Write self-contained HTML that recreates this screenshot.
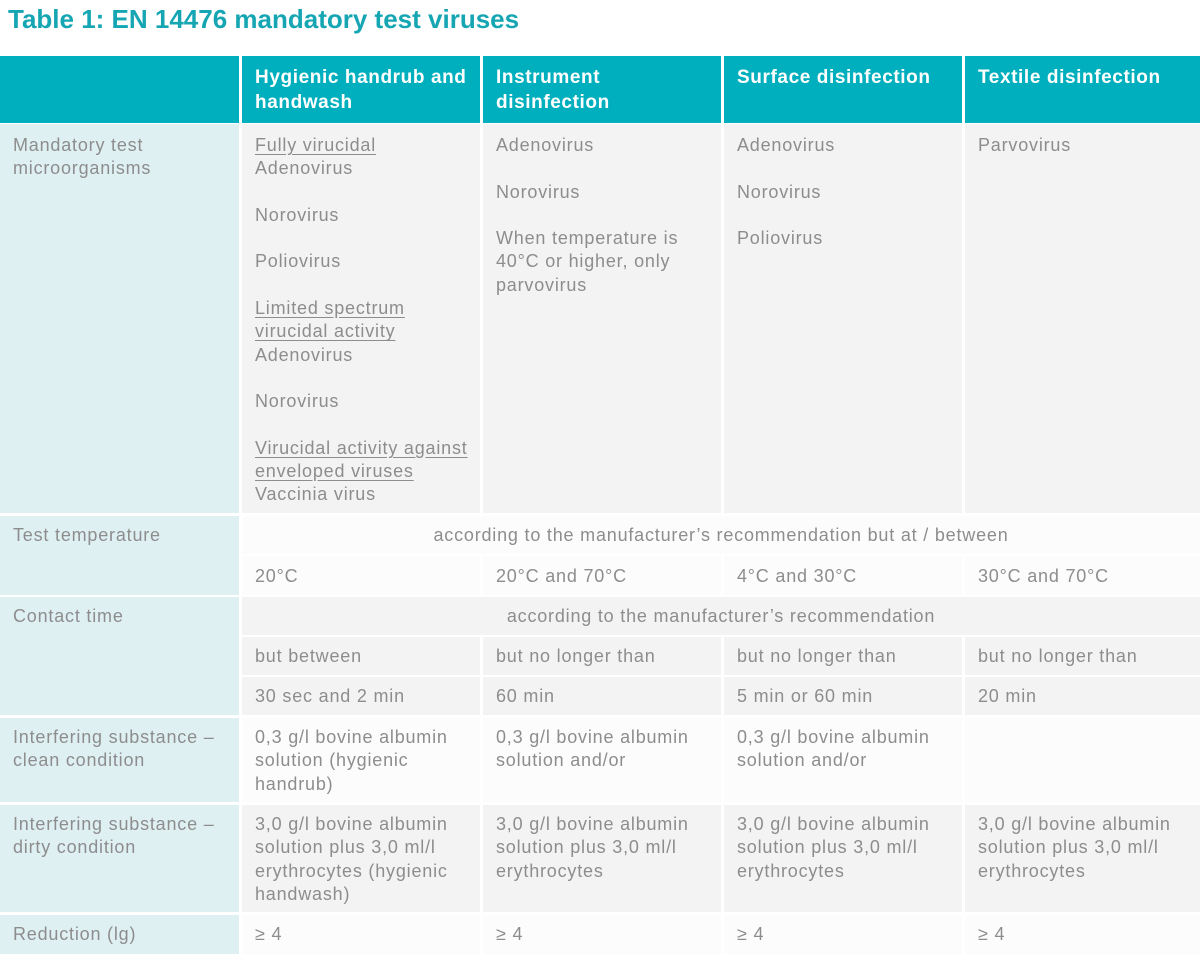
<!DOCTYPE html>
<html><head><meta charset="utf-8">
<style>
body{margin:0;width:1200px;height:954px;background:#fff;position:relative;overflow:hidden;font-family:"Liberation Sans",sans-serif;}
.c{position:absolute;box-sizing:border-box;padding:10px 0 0 13px;font-size:18px;letter-spacing:0.8px;line-height:23.3px;color:#8d8d8d;background:#f3f3f3;white-space:nowrap;}
.h{background:#00afbd;color:#fff;font-weight:bold;font-size:19px;letter-spacing:0.6px;line-height:25px;padding:9px 0 0 13px;}
.f{background:#dff0f3;}
.w{background:#fcfcfc;}
.ctr{text-align:center;padding-left:0;}
u{text-decoration:underline;text-underline-offset:3px;}
#title{position:absolute;left:8px;top:4px;font-size:26px;font-weight:bold;color:#16a6b3;letter-spacing:0px;}
</style></head><body>
<div id="title">Table 1: EN 14476 mandatory test viruses</div>

<div class="c h" style="left:0;top:56px;width:239px;height:67px"></div>
<div class="c h" style="left:242px;top:56px;width:238px;height:67px">Hygienic handrub and<br>handwash</div>
<div class="c h" style="left:483px;top:56px;width:238px;height:67px">Instrument<br>disinfection</div>
<div class="c h" style="left:724px;top:56px;width:238px;height:67px">Surface disinfection</div>
<div class="c h" style="left:965px;top:56px;width:235px;height:67px">Textile disinfection</div>

<div class="c f" style="left:0;top:124px;width:239px;height:389px">Mandatory test<br>microorganisms</div>
<div class="c" style="left:242px;top:124px;width:238px;height:389px"><u>Fully virucidal</u><br>Adenovirus<br><br>Norovirus<br><br>Poliovirus<br><br><u>Limited spectrum </u><br><u>virucidal activity</u><br>Adenovirus<br><br>Norovirus<br><br><u>Virucidal activity against </u><br><u>enveloped viruses</u><br>Vaccinia virus</div>
<div class="c" style="left:483px;top:124px;width:238px;height:389px">Adenovirus<br><br>Norovirus<br><br>When temperature is<br>40°C or higher, only<br>parvovirus</div>
<div class="c" style="left:724px;top:124px;width:238px;height:389px">Adenovirus<br><br>Norovirus<br><br>Poliovirus</div>
<div class="c" style="left:965px;top:124px;width:235px;height:389px">Parvovirus</div>

<div class="c f" style="left:0;top:516px;width:239px;height:79px;padding-top:8px">Test temperature</div>
<div class="c w ctr" style="left:242px;top:516px;width:958px;height:38px;padding-top:8px">according to the manufacturer’s recommendation but at / between</div>
<div class="c w" style="left:242px;top:556px;width:238px;height:39px;padding-top:9px">20°C</div>
<div class="c w" style="left:483px;top:556px;width:238px;height:39px;padding-top:9px">20°C and 70°C</div>
<div class="c w" style="left:724px;top:556px;width:238px;height:39px;padding-top:9px">4°C and 30°C</div>
<div class="c w" style="left:965px;top:556px;width:235px;height:39px;padding-top:9px">30°C and 70°C</div>

<div class="c f" style="left:0;top:597px;width:239px;height:118px;padding-top:8px">Contact time</div>
<div class="c ctr" style="left:242px;top:597px;width:958px;height:38px;padding-top:8px">according to the manufacturer’s recommendation</div>
<div class="c" style="left:242px;top:637px;width:238px;height:38px;padding-top:8px">but between</div>
<div class="c" style="left:483px;top:637px;width:238px;height:38px;padding-top:8px">but no longer than</div>
<div class="c" style="left:724px;top:637px;width:238px;height:38px;padding-top:8px">but no longer than</div>
<div class="c" style="left:965px;top:637px;width:235px;height:38px;padding-top:8px">but no longer than</div>
<div class="c" style="left:242px;top:677px;width:238px;height:38px;padding-top:8px">30 sec and 2 min</div>
<div class="c" style="left:483px;top:677px;width:238px;height:38px;padding-top:8px">60 min</div>
<div class="c" style="left:724px;top:677px;width:238px;height:38px;padding-top:8px">5 min or 60 min</div>
<div class="c" style="left:965px;top:677px;width:235px;height:38px;padding-top:8px">20 min</div>

<div class="c f" style="left:0;top:718px;width:239px;height:84px;padding-top:8px">Interfering substance –<br>clean condition</div>
<div class="c w" style="left:242px;top:718px;width:238px;height:84px;padding-top:8px">0,3 g/l bovine albumin<br>solution (hygienic<br>handrub)</div>
<div class="c w" style="left:483px;top:718px;width:238px;height:84px;padding-top:8px">0,3 g/l bovine albumin<br>solution and/or</div>
<div class="c w" style="left:724px;top:718px;width:238px;height:84px;padding-top:8px">0,3 g/l bovine albumin<br>solution and/or</div>
<div class="c w" style="left:965px;top:718px;width:235px;height:84px"></div>

<div class="c f" style="left:0;top:805px;width:239px;height:107px;padding-top:8px">Interfering substance –<br>dirty condition</div>
<div class="c" style="left:242px;top:805px;width:238px;height:107px;padding-top:8px">3,0 g/l bovine albumin<br>solution plus 3,0 ml/l<br>erythrocytes (hygienic<br>handwash)</div>
<div class="c" style="left:483px;top:805px;width:238px;height:107px;padding-top:8px">3,0 g/l bovine albumin<br>solution plus 3,0 ml/l<br>erythrocytes</div>
<div class="c" style="left:724px;top:805px;width:238px;height:107px;padding-top:8px">3,0 g/l bovine albumin<br>solution plus 3,0 ml/l<br>erythrocytes</div>
<div class="c" style="left:965px;top:805px;width:235px;height:107px;padding-top:8px">3,0 g/l bovine albumin<br>solution plus 3,0 ml/l<br>erythrocytes</div>

<div class="c f" style="left:0;top:915px;width:239px;height:39px;padding-top:8px">Reduction (lg)</div>
<div class="c w" style="left:242px;top:915px;width:238px;height:39px;padding-top:8px">≥ 4</div>
<div class="c w" style="left:483px;top:915px;width:238px;height:39px;padding-top:8px">≥ 4</div>
<div class="c w" style="left:724px;top:915px;width:238px;height:39px;padding-top:8px">≥ 4</div>
<div class="c w" style="left:965px;top:915px;width:235px;height:39px;padding-top:8px">≥ 4</div>
</body></html>
